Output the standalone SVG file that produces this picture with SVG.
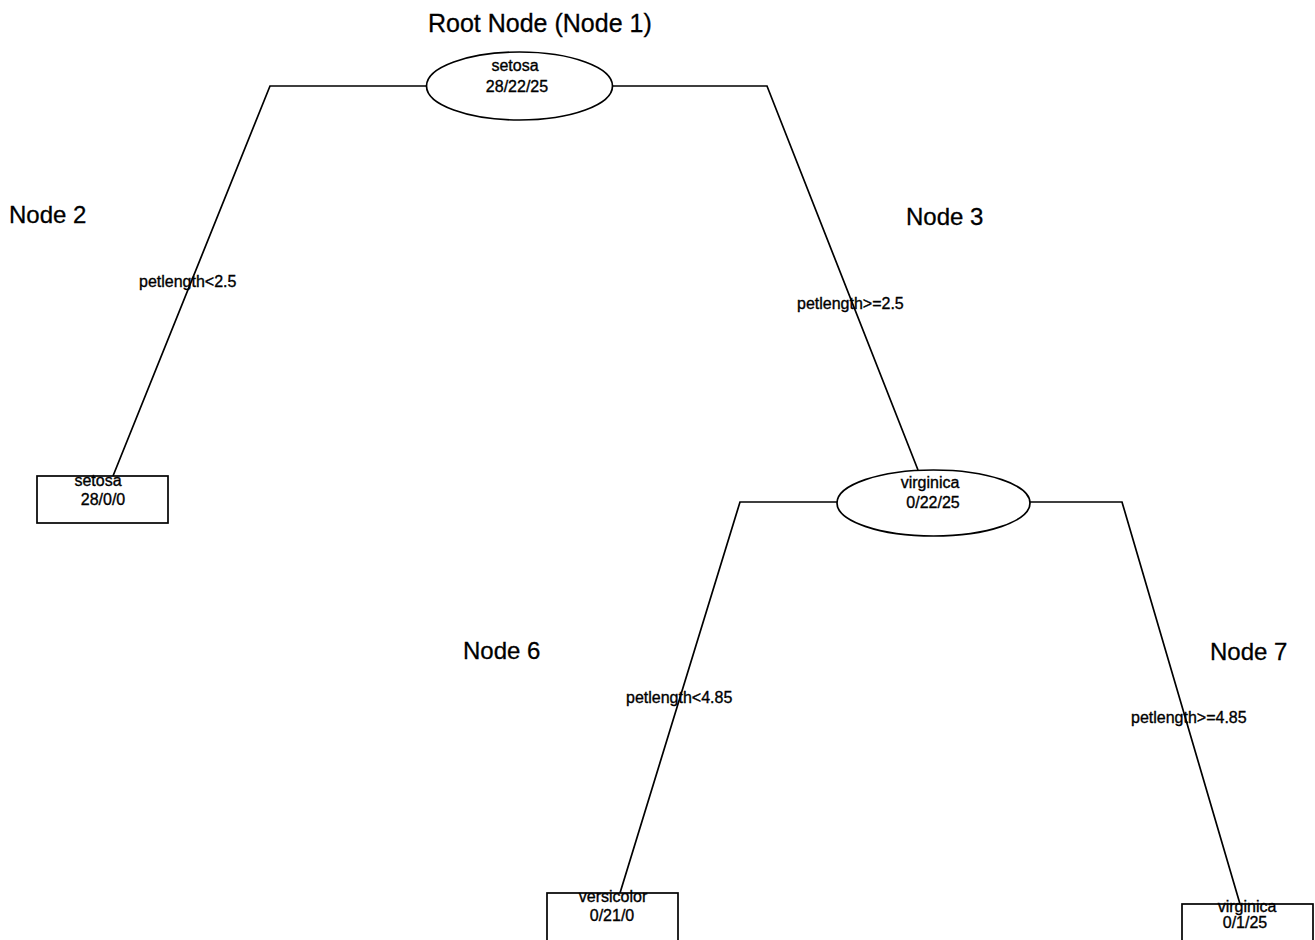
<svg xmlns="http://www.w3.org/2000/svg" width="1315" height="940" viewBox="0 0 1315 940">
<style>
.bg{fill:#fff}
.ln{fill:none;stroke:#000;stroke-width:1.7}
.nd{fill:#fff;stroke:#000;stroke-width:1.7}
.big{font-family:"Liberation Sans",Arial,sans-serif;font-size:24px;fill:#000;stroke:#000;stroke-width:0.3}
.sm{font-family:"Liberation Sans",Arial,sans-serif;font-size:16px;fill:#000;text-anchor:middle;stroke:#000;stroke-width:0.35}
.el{font-family:"Liberation Sans",Arial,sans-serif;font-size:16px;fill:#000;stroke:#000;stroke-width:0.35}
</style>
<rect class="bg" x="0" y="0" width="1315" height="940"/>
<text class="big" x="428" y="32" style="font-size:25px">Root Node (Node 1)</text>
<text class="big" x="9" y="223">Node 2</text>
<text class="big" x="906" y="225">Node 3</text>
<text class="big" x="463" y="659">Node 6</text>
<text class="big" x="1210" y="660">Node 7</text>
<g id="connectors">
<polyline class="ln" points="426,86 270,86 113,476"/>
<polyline class="ln" points="613,86 767,86 918,470"/>
<polyline class="ln" points="837,502 740,502 620,893"/>
<polyline class="ln" points="1030,502 1122,502 1240,904"/>
<text class="el" x="139" y="287">petlength&lt;2.5</text>
<text class="el" x="797" y="309">petlength&gt;=2.5</text>
<text class="el" x="626" y="703">petlength&lt;4.85</text>
<text class="el" x="1131" y="723">petlength&gt;=4.85</text>
</g>
<g id="node1">
<ellipse class="nd" cx="519.5" cy="86" rx="93" ry="34"/>
<text class="sm" x="515" y="71">setosa</text>
<text class="sm" x="517" y="92">28/22/25</text>
</g>
<g id="node2">
<rect class="nd" x="37" y="476" width="131" height="47"/>
<text class="sm" x="98" y="486">setosa</text>
<text class="sm" x="103" y="505">28/0/0</text>
</g>
<g id="node3">
<ellipse class="nd" cx="933.5" cy="503" rx="96.5" ry="33"/>
<text class="sm" x="930" y="488">virginica</text>
<text class="sm" x="933" y="508">0/22/25</text>
</g>
<g id="node6">
<rect class="nd" x="547" y="893" width="131" height="60"/>
<text class="sm" x="613" y="902">versicolor</text>
<text class="sm" x="612" y="921">0/21/0</text>
</g>
<g id="node7">
<rect class="nd" x="1182" y="904" width="131" height="50"/>
<text class="sm" x="1247" y="912">virginica</text>
<text class="sm" x="1245" y="928">0/1/25</text>
</g>
</svg>
